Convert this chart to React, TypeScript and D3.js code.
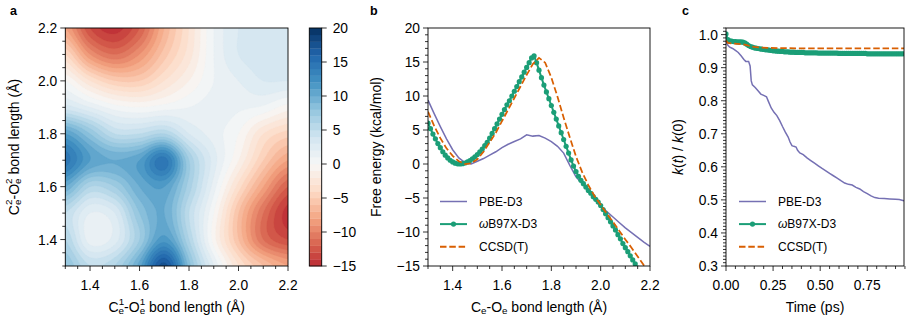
import React from "react"
import * as d3 from "d3"

// ---------- data ----------

// panel a: free energy surface (kcal/mol), rows = C2-O2 bond 1.3..2.2, cols = C1-O1 bond 1.3..2.2
const surfaceBond = [1.3, 1.4, 1.5, 1.6, 1.7, 1.8, 1.9, 2.0, 2.1, 2.2]
const surfaceEnergy = [
  [8, 5, 6, 10.5, 17.5, 8.5, 2, -3, -6, -8],
  [6, 1.5, 2.5, 7, 11.5, 6, -0.5, -6, -11, -13],
  [5, 2, 3, 8, 10, 5, 0, -6, -11, -14.5],
  [10, 6, 7, 10, 11, 6.5, 1.5, -3.5, -8, -12],
  [14.5, 11, 10, 11, 14.5, 7, 2.5, -1, -5, -8],
  [11, 8, 5, 5, 6, 3, 1.5, 0, -3, -4.5],
  [3.5, 2, 0.5, 0, 0.5, 1, 1.5, 1.2, 0.8, -0.5],
  [0, -3, -5, -5, -3, -1, 1, 2, 3, 3],
  [-4, -9, -11, -9, -5.5, -2.5, 1, 3, 3.5, 3.5],
  [-8, -13, -14.5, -12, -7, -3, 1, 3, 3.5, 3],
]
const colorbarTicks = [20, 15, 10, 5, 0, -5, -10, -15]

// panel b: 1D free energy profiles
const pbeBond = d3.range(0, 37).map((i) => 1.3 + i * 0.025)
const pbeFree = [
  9.4, 7.4, 5.5, 3.7, 2.1, 0.9, 0.2, 0.0, 0.4, 0.8, 1.3, 1.8, 2.4, 2.9, 3.3, 3.7,
  4.3, 4.1, 4.2, 3.8, 3.3, 2.6, 1.6, -0.2, -1.9, -2.9, -3.8, -5.0, -6.2, -7.0,
  -7.8, -8.6, -9.4, -10.1, -10.8, -11.5, -12.1,
]
const wbBond = d3.range(130, 216).map((i) => i / 100)
const wbFree = [
  6.0, 5.2, 4.4, 3.7, 3.0, 2.4, 1.8, 1.3, 0.9, 0.55,
  0.3, 0.12, 0.03, 0.0, 0.05, 0.15, 0.3, 0.5, 0.75, 1.05,
  1.4, 1.8, 2.2, 2.7, 3.2, 3.8, 4.5, 5.2, 5.9, 6.6,
  7.3, 8.0, 8.7, 9.3, 10.0, 10.7, 11.4, 12.1, 12.8, 13.5,
  14.2, 14.9, 15.6, 15.9, 14.9, 13.8, 12.7, 11.6, 10.6, 9.6,
  8.6, 7.6, 6.6, 5.6, 4.6, 3.6, 2.6, 1.6, 0.6, -0.3,
  -1.1, -1.8, -2.4, -2.9, -3.4, -3.9, -4.3, -4.8, -5.2, -5.6,
  -6.1, -6.7, -7.3, -7.9, -8.5, -9.1, -9.7, -10.4, -11.0, -11.7,
  -12.3, -12.9, -13.5, -14.1, -14.7, -15.3,
]
const ccBond = d3.range(0, 37).map((i) => 1.3 + i * 0.025)
const ccFree = [
  7.7, 5.6, 3.8, 2.3, 1.2, 0.4, 0.0, 0.1, 0.7, 1.8, 3.2, 4.6, 6.3, 8.0, 9.7, 11.4,
  13.1, 14.7, 15.6, 14.9, 12.7, 9.9, 6.8, 3.9, 1.1, -1.2, -3.1, -4.7, -6.0, -7.3,
  -8.5, -9.8, -11.1, -12.3, -13.6, -14.9, -16.2,
]

// panel c: transmission coefficient k(t)/k(0)
const pbeTime = [
  0, 0.01, 0.02, 0.035, 0.05, 0.065, 0.08, 0.095, 0.105, 0.12, 0.128, 0.134, 0.14,
  0.155, 0.17, 0.185, 0.2, 0.215, 0.225, 0.24, 0.255, 0.27, 0.285, 0.3, 0.315,
  0.33, 0.34, 0.35, 0.36, 0.372, 0.38, 0.392, 0.41, 0.43, 0.45, 0.47, 0.49, 0.51,
  0.53, 0.55, 0.57, 0.59, 0.61, 0.63, 0.65, 0.67, 0.69, 0.71, 0.73, 0.75, 0.77,
  0.79, 0.81, 0.84, 0.87, 0.9, 0.92, 0.945,
]
const pbeRate = [
  0.978, 0.968, 0.962, 0.958, 0.952, 0.946, 0.936, 0.925, 0.919, 0.919, 0.905,
  0.86, 0.848, 0.84, 0.83, 0.82, 0.816, 0.812, 0.798, 0.778, 0.765, 0.755, 0.74,
  0.722, 0.705, 0.69, 0.675, 0.664, 0.662, 0.66, 0.65, 0.642, 0.637, 0.627,
  0.619, 0.611, 0.603, 0.595, 0.588, 0.58, 0.573, 0.566, 0.558, 0.551, 0.547,
  0.545, 0.538, 0.533, 0.525, 0.519, 0.512, 0.507, 0.505, 0.504, 0.503, 0.502,
  0.501, 0.497,
]
const wbTime = d3.range(0, 95).map((i) => i / 100)
const wbRate = [
  1.002, 0.985, 0.981, 0.98, 0.979, 0.979, 0.978, 0.978, 0.978, 0.977,
  0.975, 0.971, 0.967, 0.964, 0.962, 0.96, 0.959, 0.958, 0.957, 0.956,
  0.955, 0.954, 0.954, 0.953, 0.952, 0.951, 0.951, 0.95, 0.95, 0.949,
  0.949, 0.948, 0.948, 0.948, 0.947, 0.947, 0.947, 0.946, 0.946, 0.946,
  0.946, 0.946, 0.945, 0.945, 0.945, 0.945, 0.945, 0.945, 0.945, 0.944,
  0.944, 0.944, 0.944, 0.944, 0.944, 0.944, 0.944, 0.944, 0.944, 0.944,
  0.943, 0.943, 0.943, 0.943, 0.943, 0.943, 0.943, 0.943, 0.943, 0.943,
  0.943, 0.943, 0.943, 0.943, 0.943, 0.942, 0.942, 0.942, 0.942, 0.942,
  0.942, 0.942, 0.942, 0.942, 0.942, 0.942, 0.942, 0.942, 0.942, 0.942,
  0.942, 0.942, 0.942, 0.942, 0.942,
]
const ccTime = [0, 0.01, 0.03, 0.06, 0.09, 0.11, 0.13, 0.15, 0.18, 0.22, 0.3, 0.45, 0.6, 0.8, 0.945]
const ccRate = [0.982, 0.975, 0.973, 0.972, 0.971, 0.968, 0.965, 0.963, 0.961, 0.96, 0.959, 0.958, 0.958, 0.958, 0.958]

const legendNames = ["PBE-D3", "B97X-D3", "CCSD(T)"]

// ---------- layout ----------
const FONT = "'Liberation Sans', Arial, Helvetica, sans-serif"
const purple = "#7570b3"
const green = "#1b9e77"
const orange = "#d95f02"
const top = 28
const bottom = 266
const tickFont = 13.8
const labelFont = 14
const legendFont = 12

const xA = d3.scaleLinear().domain([1.3, 2.2]).range([65.3, 288])
const yA = d3.scaleLinear().domain([1.3, 2.2]).range([bottom, top])
const cbX = [309.3, 321.7]
const yCb = d3.scaleLinear().domain([-15, 20]).range([bottom, top])
const xB = d3.scaleLinear().domain([1.3, 2.2]).range([428, 650])
const yB = d3.scaleLinear().domain([-15, 20]).range([bottom, top])
const xC = d3.scaleLinear().domain([0, 0.945]).range([726, 904])
const yC = d3.scaleLinear().domain([0.3, 1.02]).range([bottom, top])

// matplotlib-like RdBu: piecewise linear through the 11 scheme colours
const rdbu = d3.piecewise(d3.interpolateRgb, d3.schemeRdBu[11])
const levels = d3.range(-15, 20, 1)
const levelColor = (lo: number) => rdbu((lo + 0.5 + 20) / 40)

const minus = (v: number) => (v < 0 ? "\u2212" + Math.abs(v) : String(v))

const steps = (lo: number, hi: number, step: number) =>
  d3.range(Math.round(lo / step), Math.round(hi / step) + 1).map((k) => +(k * step).toFixed(6))
const minorOf = (lo: number, hi: number, step: number, major: number) =>
  steps(lo, hi, step).filter((v) => Math.abs(v / major - Math.round(v / major)) > 1e-6)

// smooth the read grid for contouring (Catmull-Rom)
function catmull(p0: number, p1: number, p2: number, p3: number, t: number) {
  return 0.5 * (2 * p1 + (-p0 + p2) * t + (2 * p0 - 5 * p1 + 4 * p2 - p3) * t * t + (-p0 + 3 * p1 - 3 * p2 + p3) * t * t * t)
}
function sampleSurface(gx: number, gy: number) {
  const n = surfaceBond.length
  const cl = (k: number) => Math.max(0, Math.min(n - 1, k))
  const ix = Math.min(Math.floor(gx), n - 2)
  const iy = Math.min(Math.floor(gy), n - 2)
  const tx = gx - ix
  const ty = gy - iy
  const rows = [-1, 0, 1, 2].map((dy) => {
    const r = surfaceEnergy[cl(iy + dy)]
    return catmull(r[cl(ix - 1)], r[cl(ix)], r[cl(ix + 1)], r[cl(ix + 2)], tx)
  })
  return catmull(rows[0], rows[1], rows[2], rows[3], ty)
}

const AxisX = ({ scale, y, major, minor, fmt }: any) => (
  <g>
    <g stroke="#000" strokeWidth={0.8}>
      {minor.map((v: number) => (
        <line key={"m" + v} x1={scale(v)} x2={scale(v)} y1={y} y2={y + 3} />
      ))}
      {major.map((v: number) => (
        <line key={"M" + v} x1={scale(v)} x2={scale(v)} y1={y} y2={y + 5} />
      ))}
    </g>
    {major.map((v: number) => (
      <text key={"t" + v} x={scale(v)} y={y + 24} textAnchor="middle" fontSize={tickFont}>
        {fmt(v)}
      </text>
    ))}
  </g>
)

const AxisY = ({ scale, x, major, minor, fmt }: any) => (
  <g>
    <g stroke="#000" strokeWidth={0.8}>
      {minor.map((v: number) => (
        <line key={"m" + v} x1={x - 3} x2={x} y1={scale(v)} y2={scale(v)} />
      ))}
      {major.map((v: number) => (
        <line key={"M" + v} x1={x - 5} x2={x} y1={scale(v)} y2={scale(v)} />
      ))}
    </g>
    {major.map((v: number) => (
      <text key={"t" + v} x={x - 8} y={scale(v)} dy="0.36em" textAnchor="end" fontSize={tickFont}>
        {fmt(v)}
      </text>
    ))}
  </g>
)

const Legend = ({ x, y }: any) => (
  <g fontSize={legendFont}>
    {legendNames.map((name, i) => {
      const ly = y + i * 22.6
      const col = [purple, green, orange][i]
      return (
        <g key={name}>
          <line
            x1={x}
            x2={x + 27}
            y1={ly}
            y2={ly}
            stroke={col}
            strokeWidth={i === 0 ? 1.5 : 2}
            strokeDasharray={i === 2 ? "6.5 2.8" : undefined}
          />
          {i === 1 && <circle cx={x + 13.5} cy={ly} r={2.6} fill={green} />}
          <text x={x + 39} y={ly} dy="0.36em">
            {i === 1 && <tspan fontStyle="italic">ω</tspan>}
            {name}
          </text>
        </g>
      )
    })}
  </g>
)

export default function App() {
  const N = 181
  const contourPaths = React.useMemo(() => {
    const step = 0.9 / (N - 1)
    const values: number[] = new Array(N * N)
    for (let j = 0; j < N; j++) {
      const gy = (2.2 - j * step - 1.3) / 0.1
      for (let i = 0; i < N; i++) {
        values[j * N + i] = sampleSurface((i * step) / 0.1, gy)
      }
    }
    const toPx = d3.geoTransform({
      point: function (this: any, x: number, y: number) {
        this.stream.point(xA(1.3 + (x - 0.5) * step), yA(2.2 - (y - 0.5) * step))
      },
    })
    const path = d3.geoPath(toPx)
    return d3
      .contours()
      .size([N, N])
      .thresholds(levels)(values)
      .map((c) => ({ value: c.value, d: path(c as any) || "" }))
  }, [])

  const lineB = d3.line<[number, number]>().x((d) => xB(d[0])).y((d) => yB(d[1]))
  const lineC = d3.line<[number, number]>().x((d) => xC(d[0])).y((d) => yC(d[1]))
  const pbeB = d3.zip(pbeBond, pbeFree) as [number, number][]
  const wbB = d3.zip(wbBond, wbFree) as [number, number][]
  const ccB = d3.zip(ccBond, ccFree) as [number, number][]
  const pbeC = d3.zip(pbeTime, pbeRate) as [number, number][]
  const wbC = d3.zip(wbTime, wbRate) as [number, number][]
  const ccC = d3.zip(ccTime, ccRate) as [number, number][]

  const f1 = d3.format(".1f")
  const f2 = d3.format(".2f")
  const bondMajor = [1.4, 1.6, 1.8, 2.0, 2.2]
  const bondMinor = minorOf(1.3, 2.2, 0.05, 0.2)

  const [aL, aR] = xA.range()
  const [bL, bR] = xB.range()
  const [cL, cR] = xC.range()

  const sub = (s: string, sup?: string) => (
    <>
      <tspan fontSize={9.8} dy={2.5}>
        {s}
      </tspan>
      {sup ? (
        <tspan fontSize={9.8} dx={-5.4} dy={-8.8}>
          {sup}
        </tspan>
      ) : null}
    </>
  )

  return (
    <svg
      width={910}
      height={325}
      style={{ position: "absolute", left: 0, top: 0, background: "#fff" }}
      fontFamily={FONT}
    >
      <defs>
        <clipPath id="clipA">
          <rect x={aL} y={top} width={aR - aL} height={bottom - top} />
        </clipPath>
        <clipPath id="clipB">
          <rect x={bL} y={top} width={bR - bL} height={bottom - top} />
        </clipPath>
        <clipPath id="clipC">
          <rect x={cL} y={top} width={cR - cL} height={bottom - top} />
        </clipPath>
      </defs>

      {/* ---------- panel a ---------- */}
      <g clipPath="url(#clipA)">
        <rect x={aL} y={top} width={aR - aL} height={bottom - top} fill={levelColor(-15)} />
        {contourPaths.map((c) => (
          <path key={c.value} d={c.d} fill={levelColor(c.value)} stroke={levelColor(c.value)} strokeWidth={0.3} />
        ))}
      </g>
      <rect x={aL} y={top} width={aR - aL} height={bottom - top} fill="none" stroke="#000" strokeWidth={0.9} />
      <AxisX scale={xA} y={bottom} major={bondMajor} minor={bondMinor} fmt={f1} />
      <AxisY scale={yA} x={aL} major={bondMajor} minor={bondMinor} fmt={f1} />
      <text x={(aL + aR) / 2} y={311.5} textAnchor="middle" fontSize={labelFont}>
        C{sub("e", "1")}
        <tspan dy={6.3}>-O</tspan>
        {sub("e", "1")}
        <tspan dy={6.3}>{" bond length (Å)"}</tspan>
      </text>
      <text transform={`translate(18.5,${(top + bottom) / 2}) rotate(-90)`} textAnchor="middle" fontSize={labelFont}>
        C{sub("e", "2")}
        <tspan dy={6.3}>-O</tspan>
        {sub("e", "2")}
        <tspan dy={6.3}>{" bond length (Å)"}</tspan>
      </text>
      <text x={10} y={15} fontSize={12.5} fontWeight="bold">
        a
      </text>

      {/* colorbar */}
      {levels.map((lo) => (
        <rect
          key={lo}
          x={cbX[0]}
          y={yCb(lo + 1)}
          width={cbX[1] - cbX[0]}
          height={yCb(lo) - yCb(lo + 1) + 0.3}
          fill={levelColor(lo)}
        />
      ))}
      <rect x={cbX[0]} y={top} width={cbX[1] - cbX[0]} height={bottom - top} fill="none" stroke="#000" strokeWidth={0.9} />
      {colorbarTicks.map((v) => (
        <g key={v}>
          <line x1={cbX[1]} x2={cbX[1] + 5} y1={yCb(v)} y2={yCb(v)} stroke="#000" strokeWidth={0.8} />
          <text x={cbX[1] + 11} y={yCb(v)} dy="0.36em" fontSize={tickFont}>
            {minus(v)}
          </text>
        </g>
      ))}

      {/* ---------- panel b ---------- */}
      <g clipPath="url(#clipB)" fill="none">
        <path d={lineB(pbeB) || ""} stroke={purple} strokeWidth={1.5} />
        <path d={lineB(wbB) || ""} stroke={green} strokeWidth={2} />
        {wbB.map((d, i) => (
          <circle key={i} cx={xB(d[0])} cy={yB(d[1])} r={2.6} fill={green} />
        ))}
        <path d={lineB(ccB) || ""} stroke={orange} strokeWidth={1.75} strokeDasharray="6.5 2.8" />
      </g>
      <rect x={bL} y={top} width={bR - bL} height={bottom - top} fill="none" stroke="#000" strokeWidth={0.9} />
      <AxisX scale={xB} y={bottom} major={bondMajor} minor={bondMinor} fmt={f1} />
      <AxisY scale={yB} x={bL} major={steps(-15, 20, 5)} minor={minorOf(-15, 20, 1, 5)} fmt={minus} />
      <text x={(bL + bR) / 2} y={311.5} textAnchor="middle" fontSize={labelFont}>
        C{sub("e")}
        <tspan dy={-2.5}>-O</tspan>
        {sub("e")}
        <tspan dy={-2.5}>{" bond length (Å)"}</tspan>
      </text>
      <text transform={`translate(381,${(top + bottom) / 2}) rotate(-90)`} textAnchor="middle" fontSize={labelFont}>
        Free energy (kcal/mol)
      </text>
      <text x={370} y={15} fontSize={12.5} fontWeight="bold">
        b
      </text>
      <Legend x={440} y={201.5} />

      {/* ---------- panel c ---------- */}
      <g clipPath="url(#clipC)" fill="none">
        <path d={lineC(pbeC) || ""} stroke={purple} strokeWidth={1.5} />
        <path d={lineC(wbC) || ""} stroke={green} strokeWidth={2} />
        {wbC.map((d, i) => (
          <circle key={i} cx={xC(d[0])} cy={yC(d[1])} r={2.6} fill={green} />
        ))}
        <path d={lineC(ccC) || ""} stroke={orange} strokeWidth={1.75} strokeDasharray="6.5 2.8" />
      </g>
      <rect x={cL} y={top} width={cR - cL} height={bottom - top} fill="none" stroke="#000" strokeWidth={0.9} />
      <AxisX scale={xC} y={bottom} major={[0, 0.25, 0.5, 0.75]} minor={minorOf(0, 0.94, 0.05, 0.25)} fmt={f2} />
      <AxisY scale={yC} x={cL} major={steps(0.3, 1.0, 0.1)} minor={minorOf(0.3, 1.02, 0.01, 0.1)} fmt={f1} />
      <text x={(cL + cR) / 2} y={311.5} textAnchor="middle" fontSize={labelFont}>
        Time (ps)
      </text>
      <text transform={`translate(683,${(top + bottom) / 2}) rotate(-90)`} textAnchor="middle" fontSize={labelFont}>
        <tspan fontStyle="italic">k</tspan>(<tspan fontStyle="italic">t</tspan>) / <tspan fontStyle="italic">k</tspan>(0)
      </text>
      <text x={682} y={15} fontSize={12.5} fontWeight="bold">
        c
      </text>
      <Legend x={739} y={201.5} />
    </svg>
  )
}
